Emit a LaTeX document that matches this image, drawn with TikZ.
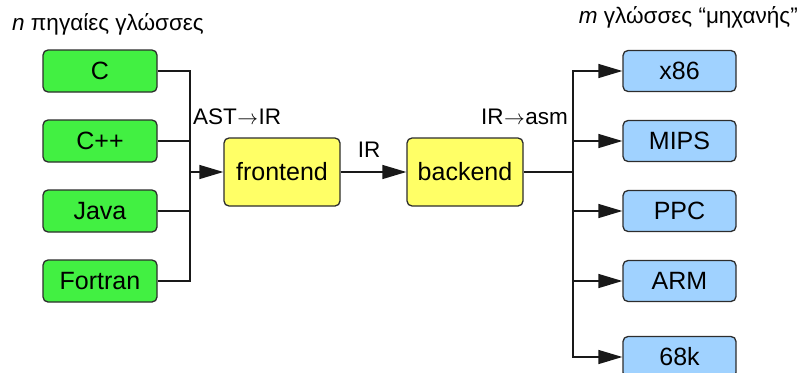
\documentclass[tikz,border=0pt]{standalone}
\usepackage{fontspec}
\setmainfont{Liberation Sans}
\usetikzlibrary{arrows.meta}
\definecolor{srcgreen}{RGB}{66,240,66}
\definecolor{midyellow}{RGB}{255,255,102}
\definecolor{tgtblue}{RGB}{160,210,255}
\definecolor{edgegray}{RGB}{45,45,45}
\definecolor{linecol}{RGB}{25,25,25}
\newcommand{\longarr}{\kern0.5pt$\rightarrow$\kern0.5pt}
\tikzset{
  box/.style={draw=edgegray, line width=1.3pt, rounded corners=5pt, inner sep=0pt,
    font=\fontsize{25}{30}\selectfont, text=black},
  srcbox/.style={box, fill=srcgreen, minimum width=114pt, minimum height=42pt},
  midbox/.style={box, fill=midyellow, minimum width=116pt, minimum height=68pt},
  tgtbox/.style={box, fill=tgtblue, minimum width=113pt, minimum height=41pt},
  conn/.style={draw=linecol, line width=1.4pt},
  arr/.style={conn, -{Triangle[length=24pt,width=14pt]}},
  lbl/.style={font=\fontsize{22.5}{27}\selectfont, inner sep=0pt},
}
\begin{document}
\begin{tikzpicture}[x=1pt,y=-1pt]
\useasboundingbox (0,0) rectangle (800,372);
% titles
\node[lbl, anchor=west] (t1) at (12,24) {\textit{n} πηγαίες γλώσσες};
\node[lbl, anchor=east] (t2) at (798,17) {\textit{m} γλώσσες “μηχανής”};
% source boxes
\node[srcbox] (c) at (100,71) {C};
\node[srcbox] (cpp) at (100,141) {C++};
\node[srcbox] (java) at (100,211) {Java};
\node[srcbox] (fortran) at (100,281) {Fortran};
% middle
\node[midbox] (fe) at (282,172) {frontend};
\node[midbox] (be) at (465,172) {backend};
% targets
\node[tgtbox] (x86) at (679.5,71) {x86};
\node[tgtbox] (mips) at (679.5,141) {MIPS};
\node[tgtbox] (ppc) at (679.5,211) {PPC};
\node[tgtbox] (arm) at (679.5,281) {ARM};
\node[tgtbox] (m68k) at (679.5,357) {68k};
% junction coordinates
\coordinate (jl) at (190,172);
\coordinate (jr) at (573,172);
% left merge
\draw[conn] (c.east) -| (jl);
\draw[conn] (cpp.east) -| (jl);
\draw[conn] (java.east) -| (jl);
\draw[conn] (fortran.east) -| (jl);
\draw[arr] (jl) -- (fe.west);
\draw[arr] (fe.east) -- (be.west);
% right split
\draw[conn] (be.east) -- (jr);
\draw[arr] (jr) |- (x86.west);
\draw[arr] (jr) |- (mips.west);
\draw[arr] (jr) |- (ppc.west);
\draw[arr] (jr) |- (arm.west);
\draw[arr] (jr) |- (m68k.west);
% labels
\node[lbl, anchor=west] (l1) at (193,117) {AST\longarr IR};
\node[lbl] (l2) at (369,150) {IR};
\node[lbl, anchor=east] (l3) at (568,117) {IR\longarr asm};
\end{tikzpicture}
\end{document}
